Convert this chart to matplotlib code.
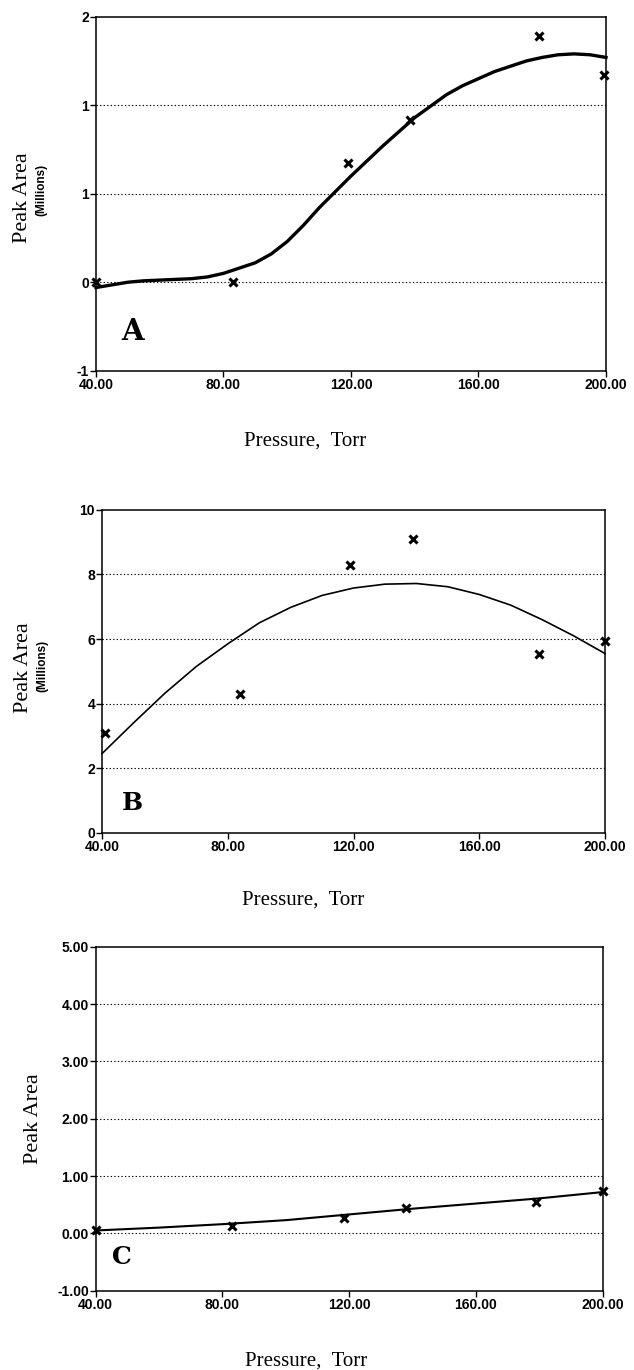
import numpy as np
import matplotlib.pyplot as plt

# pressure of the measured points (Torr)
pa_x = [40, 83, 119, 138.5, 179, 199.5]
pa_y = [0.0, 0.0, 0.675, 0.915, 1.39, 1.17]
pb_x = [41, 84, 119, 139, 179, 200]
pb_y = [3.1, 4.3, 8.28, 9.1, 5.53, 5.94]
pc_x = [40, 83, 118.5, 138, 179, 200]
pc_y = [0.06, 0.13, 0.26, 0.45, 0.55, 0.73]

# fitted curves
ca_x = [40, 45, 50, 55, 60, 65, 70, 75, 80, 85, 90, 95, 100, 105, 110, 115, 120,
        125, 130, 135, 140, 145, 150, 155, 160, 165, 170, 175, 180, 185, 190, 195, 200]
ca_y = [-0.03, -0.015, 0.0, 0.008, 0.012, 0.016, 0.02, 0.03, 0.05, 0.08, 0.11, 0.16,
        0.23, 0.32, 0.42, 0.51, 0.6, 0.685, 0.77, 0.85, 0.93, 0.995, 1.06, 1.11, 1.15,
        1.19, 1.22, 1.25, 1.27, 1.285, 1.29, 1.285, 1.27]
cb_x = [40, 50, 60, 70, 80, 90, 100, 110, 120, 130, 140, 150, 160, 170, 180, 190, 200]
cb_y = [2.45, 3.4, 4.32, 5.15, 5.85, 6.5, 6.98, 7.35, 7.58, 7.7, 7.72, 7.62, 7.38, 7.05, 6.6, 6.1, 5.55]
cc_x = [40, 60, 80, 100, 120, 140, 160, 180, 200]
cc_y = [0.05, 0.1, 0.16, 0.23, 0.33, 0.43, 0.52, 0.61, 0.72]

xticks = [40, 80, 120, 160, 200]
xlabels = ["40.00", "80.00", "120.00", "160.00", "200.00"]
a_ticks = [-0.5, 0, 0.5, 1, 1.5]
a_labels = ["-1", "0", "1", "1", "2"]
b_ticks = [0, 2, 4, 6, 8, 10]
b_labels = ["0", "2", "4", "6", "8", "10"]
c_ticks = [-1, 0, 1, 2, 3, 4, 5]
c_labels = ["-1.00", "0.00", "1.00", "2.00", "3.00", "4.00", "5.00"]

serif = "Liberation Serif"
sans = "Liberation Sans"

fig = plt.figure(figsize=(6.34, 13.7), dpi=100)


def panel(rect, yt, yl, letter, lpos, lsize, xl_pos, ylab):
    ax = fig.add_axes(rect)
    ax.set_xlim(40, 200)
    ax.set_ylim(yt[0], yt[-1])
    ax.set_xticks(xticks)
    ax.set_xticklabels(xlabels, fontfamily=sans, fontweight="bold", fontsize=10)
    ax.set_yticks(yt)
    ax.set_yticklabels(yl, fontfamily=sans, fontweight="bold", fontsize=10)
    ax.tick_params(direction="out", length=4, width=1, pad=1, colors="black")
    for y in yt[1:-1]:
        ax.axhline(y, color="black", lw=0.8, ls=(0, (1.2, 2)))
    for s in ax.spines.values():
        s.set_linewidth(1.1)
    ax.text(lpos[0], lpos[1], letter, transform=ax.transAxes, ha="center", va="center",
            fontfamily="DejaVu Serif", fontweight="bold", fontsize=lsize)
    ax.text(xl_pos[0], xl_pos[1], "Pressure,  Torr", transform=ax.transAxes, ha="center",
            va="center", fontfamily=serif, fontsize=15)
    ax.text(ylab[0], ylab[1], "Peak Area", transform=ax.transAxes, rotation=90,
            ha="center", va="center", fontfamily=serif, fontsize=16)
    if len(ylab) > 2:
        ax.text(ylab[2], ylab[3], "(Millions)", transform=ax.transAxes, rotation=90,
                ha="center", va="center", fontfamily=sans, fontweight="bold", fontsize=8.5)
    return ax


mk = dict(marker="x", color="black", ms=5.5, mew=2.2, ls="none", clip_on=False, zorder=5)

ax1 = panel([0.1514, 0.7294, 0.8044, 0.2584], a_ticks, a_labels, "A", (0.0725, 0.11), 21,
            (0.41, -0.2), (-0.145, 0.49, -0.108, 0.51))
ax1.plot(ca_x, ca_y, color="black", lw=2.4, clip_on=False)
ax1.plot(pa_x, pa_y, **mk)

ax2 = panel([0.1609, 0.3922, 0.7934, 0.2356], b_ticks, b_labels, "B", (0.061, 0.091), 18,
            (0.40, -0.208), (-0.157, 0.51, -0.118, 0.517))
ax2.plot(cb_x, cb_y, color="black", lw=1.2, clip_on=False)
ax2.plot(pb_x, pb_y, **mk)

ax3 = panel([0.151, 0.0579, 0.7997, 0.2511], c_ticks, c_labels, "C", (0.051, 0.099), 18,
            (0.415, -0.206), (-0.122, 0.50))
ax3.plot(cc_x, cc_y, color="black", lw=1.5, clip_on=False)
ax3.plot(pc_x, pc_y, **mk)

fig.savefig("out.png", dpi=100)
